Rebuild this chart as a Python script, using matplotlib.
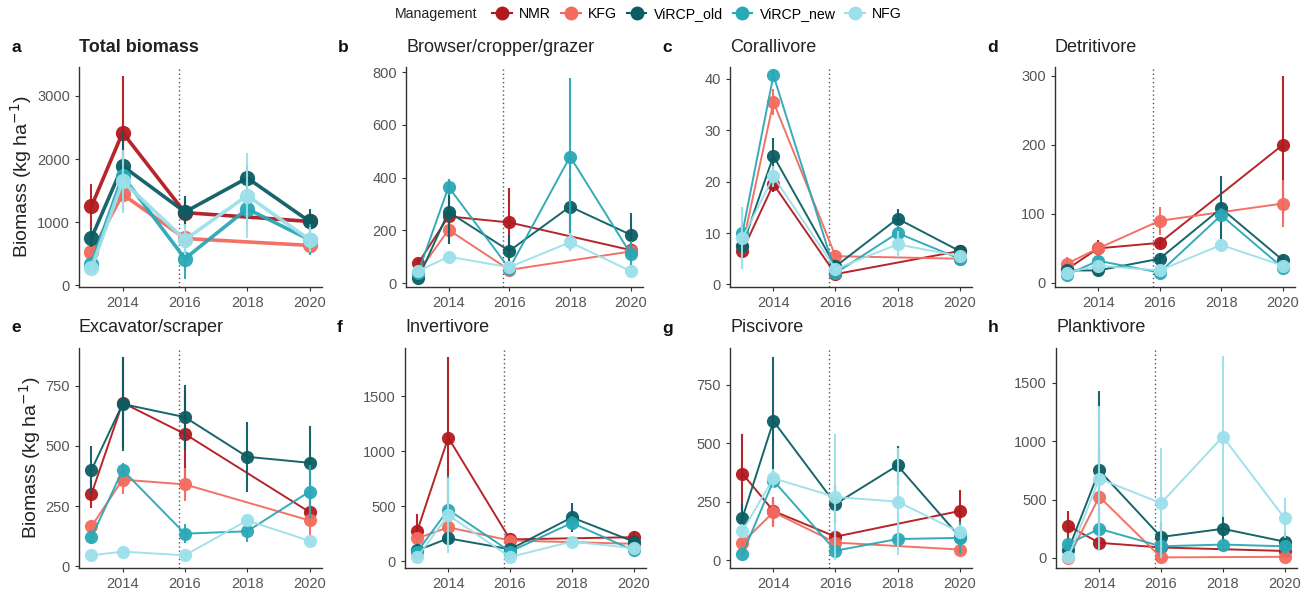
import numpy as np
import matplotlib
matplotlib.use("Agg")
import matplotlib.pyplot as plt
from matplotlib.lines import Line2D

nan = np.nan
years = [2013, 2014, 2016, 2018, 2020]
management = ["NMR", "KFG", "ViRCP_old", "ViRCP_new", "NFG"]
colors = ["#B2191E", "#F26B5E", "#0B5D63", "#29A8B5", "#9BE0EA"]

# rows follow management order; NaN = not surveyed
total_mean = [[1250, 2420, 1150, nan, 1010],
              [520, 1440, 740, nan, 630],
              [750, 1890, 1160, 1700, 1010],
              [340, 1730, 420, 1210, 720],
              [270, 1650, 720, 1420, 720]]
total_err = [[350, 900, 200, 0, 150],
             [100, 250, 100, 0, 80],
             [150, 550, 250, 200, 200],
             [80, 400, 320, 250, 250],
             [80, 500, 250, 680, 200]]

browser_mean = [[75, 253, 230, nan, 125],
                [40, 202, 50, nan, 120],
                [18, 270, 122, 290, 183],
                [40, 365, 55, 480, 110],
                [45, 100, 60, 155, 45]]
browser_err = [[15, 75, 130, 0, 30],
               [10, 50, 20, 0, 20],
               [10, 120, 60, 105, 82],
               [10, 30, 20, 300, 50],
               [10, 20, 15, 35, 15]]

coral_mean = [[6.5, 19.5, 2.0, nan, 6.5],
              [7.5, 35.5, 5.5, nan, 5.0],
              [7.5, 25, 3.5, 12.8, 6.5],
              [10, 40.7, 2.2, 10, 5.0],
              [9, 21, 3, 7.8, 5.5]]
coral_err = [[1, 1.5, 0.5, 0, 1],
             [1, 2.5, 1, 0, 0.8],
             [1.5, 3.5, 1, 1.8, 1],
             [2, 1, 0.8, 1.5, 0.8],
             [6, 2, 1, 2.5, 1]]

detrit_mean = [[20, 50, 58, nan, 200],
               [28, 50, 90, nan, 115],
               [18, 18, 35, 108, 33],
               [12, 32, 15, 98, 22],
               [15, 25, 18, 55, 25]]
detrit_err = [[5, 12, 8, 0, 100],
              [9, 8, 20, 0, 34],
              [5, 6, 8, 47, 8],
              [4, 8, 5, 10, 5],
              [4, 6, 5, 8, 5]]

excav_mean = [[300, 680, 550, nan, 225],
              [165, 360, 340, nan, 190],
              [400, 675, 620, 455, 430],
              [120, 400, 135, 145, 310],
              [45, 60, 45, 190, 105]]
excav_err = [[60, 190, 185, 0, 60],
             [25, 60, 70, 0, 60],
             [100, 195, 135, 145, 155],
             [20, 30, 40, 45, 110],
             [10, 10, 10, 25, 15]]

invert_mean = [[280, 1125, 200, nan, 220],
               [210, 310, 190, nan, 160],
               [100, 210, 110, 400, 180],
               [90, 470, 90, 350, 100],
               [40, 420, 40, 180, 120]]
invert_err = [[150, 735, 40, 0, 60],
              [30, 110, 30, 0, 30],
              [30, 40, 30, 135, 40],
              [30, 310, 30, 60, 30],
              [20, 340, 15, 30, 30]]

pisc_mean = [[370, 210, 100, nan, 210],
             [75, 205, 75, nan, 45],
             [180, 595, 240, 405, 100],
             [25, 340, 40, 90, 95],
             [125, 350, 270, 250, 120]]
pisc_err = [[170, 60, 30, 0, 90],
            [15, 65, 20, 0, 15],
            [60, 275, 80, 85, 30],
            [10, 30, 15, 20, 70],
            [30, 40, 270, 230, 30]]

plank_mean = [[275, 130, 90, nan, 60],
              [0, 525, 5, nan, 10],
              [70, 750, 180, 250, 140],
              [120, 250, 100, 115, 100],
              [5, 680, 470, 1040, 340]]
plank_err = [[125, 40, 20, 0, 20],
             [5, 400, 5, 0, 5],
             [40, 680, 130, 105, 80],
             [40, 40, 30, 30, 30],
             [5, 620, 470, 690, 170]]

# (letter, title, means, errs, yticks, ylim, axes box in px: left, top, right, bottom)
panels = [
    ("a", "Total biomass", total_mean, total_err, [0, 1000, 2000, 3000], (-30, 3460), (79, 67, 322, 287)),
    ("b", "Browser/cropper/grazer", browser_mean, browser_err, [0, 200, 400, 600, 800], (-15, 820), (406, 67, 643, 287)),
    ("c", "Corallivore", coral_mean, coral_err, [0, 10, 20, 30, 40], (-0.5, 42.3), (730, 67, 972, 287)),
    ("d", "Detritivore", detrit_mean, detrit_err, [0, 100, 200, 300], (-6, 313), (1055, 67, 1295, 287)),
    ("e", "Excavator/scraper", excav_mean, excav_err, [0, 250, 500, 750], (-8, 908), (79, 348, 322, 568)),
    ("f", "Invertivore", invert_mean, invert_err, [0, 500, 1000, 1500], (-60, 1940), (405, 348, 646, 568)),
    ("g", "Piscivore", pisc_mean, pisc_err, [0, 250, 500, 750], (-34, 908), (730, 348, 972, 568)),
    ("h", "Planktivore", plank_mean, plank_err, [0, 500, 1000, 1500], (-86, 1800), (1056, 348, 1297, 568)),
]

W, H = 1311, 592
fig = plt.figure(figsize=(W / 100, H / 100), dpi=100)
plt.rcParams["font.family"] = ["Liberation Sans", "DejaVu Sans"]

for letter, title, means, errs, yticks, ylim, box in panels:
    l, t, r, b = box
    ax = fig.add_axes([l / W, 1 - b / H, (r - l) / W, (b - t) / H])
    thick = letter == "a"
    lw = 2.6 if thick else 1.4
    ms = 11 if thick else 9.5
    for i, name in enumerate(management):
        y = np.array(means[i], dtype=float)
        e = np.array(errs[i], dtype=float)
        x = np.array(years, dtype=float)
        ok = ~np.isnan(y)
        ax.errorbar(x[ok], y[ok], yerr=e[ok], color=colors[i], lw=lw,
                    elinewidth=1.5, capsize=0, marker="o", ms=ms,
                    markeredgewidth=0, alpha=0.95, zorder=2 + i)
    ax.axvline(2015.8, color="#555555", ls=(0, (1, 2)), lw=1, zorder=1)
    ax.set_xlim(2012.6, 2020.4)
    ax.set_ylim(*ylim)
    ax.set_xticks([2014, 2016, 2018, 2020])
    ax.set_yticks(yticks)
    for s in ["top", "right"]:
        ax.spines[s].set_visible(False)
    for s in ["left", "bottom"]:
        ax.spines[s].set_color("#333333")
        ax.spines[s].set_linewidth(1.0)
    ax.tick_params(colors="#333333", labelcolor="#555555", labelsize=10.5, length=3, width=0.8)
    fig.text((l - 68) / W, 1 - (t - 20) / H, letter, fontsize=12.5, fontweight="bold",
             va="center", ha="left", color="#111111")
    fig.text(l / W, 1 - (t - 20) / H, title, fontsize=13,
             fontweight="bold" if thick else "normal", va="center", ha="left", color="#222222")
    if letter in ("a", "e"):
        ax.set_ylabel("Biomass (kg ha$^{-1}$)", fontsize=14, color="#222222", labelpad=2)

handles = [Line2D([0], [0], color=c, marker="o", ms=9, lw=1.5) for c in colors]
fig.text(395 / W, 1 - 14 / H, "Management", fontsize=10.2, va="center", ha="left", color="#222222")
fig.legend(handles, management, loc="center left", bbox_to_anchor=(485 / W, 1 - 14 / H),
           ncol=5, frameon=False, fontsize=10.2, handlelength=1.4, handletextpad=0.5,
           columnspacing=0.7, borderpad=0)

fig.savefig("out.png", dpi=100)
